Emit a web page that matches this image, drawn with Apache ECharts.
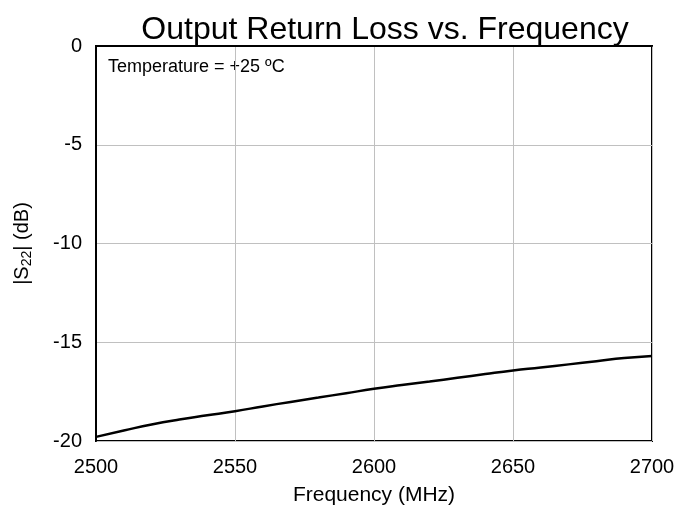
<!DOCTYPE html>
<html>
<head>
<meta charset="utf-8">
<script src="https://cdn.jsdelivr.net/npm/echarts@6/dist/echarts.min.js"></script>
<style>html,body{margin:0;padding:0;background:#fff}#c{width:691px;height:506px}</style>
</head>
<body>
<div id="c"></div>
<script>
const frequencies = [2500,2510,2520,2530,2540,2550,2560,2570,2580,2590,2600,2610,2620,2630,2640,2650,2660,2670,2680,2690,2700];
const s22 = [-19.79,-19.47,-19.16,-18.91,-18.70,-18.49,-18.25,-18.02,-17.80,-17.58,-17.36,-17.17,-16.99,-16.80,-16.61,-16.43,-16.28,-16.12,-15.96,-15.80,-15.69];
const titleText = 'Output Return Loss vs. Frequency';
const xName = 'Frequency (MHz)';
const noteText = 'Temperature = +25 ºC';

const font = 'Liberation Sans, Arial, sans-serif';
const chart = echarts.init(document.getElementById('c'), null, {renderer:'canvas'});
chart.setOption({
  animation: false,
  backgroundColor: '#fff',
  title: {
    text: titleText, left: 380, textAlign: 'center', top: 9,
    textStyle: {fontFamily: font, fontSize: 32, fontWeight: 'normal', color: '#000'}
  },
  grid: {left: 96, right: 39, top: 46, bottom: 65, containLabel: false, outerBoundsMode: 'none',
         show: true, borderColor: '#000', borderWidth: 2, backgroundColor: 'transparent'},
  graphic: [{
    type: 'text', left: 108, top: 58,
    style: {text: noteText, font: '18px ' + font, fill: '#000'}
  }],
  xAxis: {
    type: 'value', min: 2500, max: 2700, interval: 50,
    name: xName, nameLocation: 'middle', nameGap: 44,
    nameTextStyle: {fontFamily: font, fontSize: 21, color: '#000'},
    axisLine: {show: true, lineStyle: {color: '#000', width: 2}},
    axisTick: {show: false},
    axisLabel: {fontFamily: font, fontSize: 20, color: '#000', margin: 16, formatter: v => String(v)},
    splitLine: {show: true, lineStyle: {color: '#c0c0c0', width: 1}}
  },
  yAxis: {
    type: 'value', min: -20, max: 0, interval: 5,
    name: '|S{sub|22}| (dB)', nameLocation: 'middle', nameGap: 62, nameRotate: 90,
    nameTextStyle: {fontFamily: font, fontSize: 20, color: '#000',
      rich: {sub: {fontFamily: font, fontSize: 14, color: '#000', verticalAlign: 'bottom', padding: [9,0,0,0]}}},
    axisLine: {show: true, lineStyle: {color: '#000', width: 2}},
    axisTick: {show: false},
    axisLabel: {fontFamily: font, fontSize: 20, color: '#000', margin: 14},
    splitLine: {show: true, lineStyle: {color: '#c0c0c0', width: 1}}
  },
  series: [{
    type: 'line', data: frequencies.map((f,i)=>[f, s22[i]]),
    showSymbol: false, smooth: true,
    lineStyle: {color: '#000', width: 2.5}
  }]
});
</script>
</body>
</html>
